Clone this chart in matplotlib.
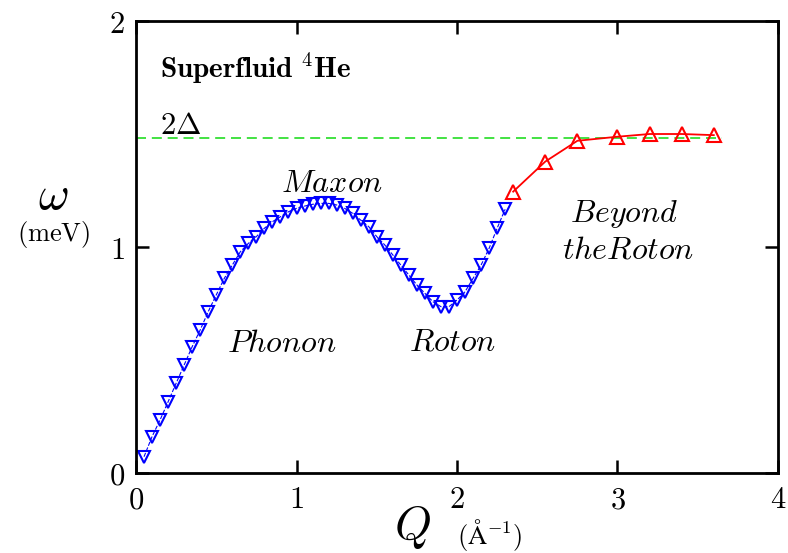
import matplotlib
matplotlib.use("Agg")
import matplotlib.pyplot as plt

plt.rcParams["mathtext.fontset"] = "cm"
plt.rcParams["font.family"] = ["DejaVu Serif"]

# measured dispersion (blue, down triangles)
q_meas = [0.05, 0.10, 0.15, 0.20, 0.25, 0.30, 0.35, 0.40, 0.45, 0.50,
          0.55, 0.60, 0.65, 0.70, 0.75, 0.80, 0.85, 0.90, 0.95, 1.00,
          1.05, 1.10, 1.15, 1.20, 1.25, 1.30, 1.35, 1.40, 1.45, 1.50,
          1.55, 1.60, 1.65, 1.70, 1.75, 1.80, 1.85, 1.90, 1.95, 2.00,
          2.05, 2.10, 2.15, 2.20, 2.25, 2.30]
w_meas = [0.072, 0.161, 0.235, 0.315, 0.397, 0.478, 0.559, 0.633, 0.714, 0.788,
          0.861, 0.920, 0.979, 1.016, 1.046, 1.083, 1.112, 1.134, 1.156, 1.171,
          1.181, 1.189, 1.193, 1.193, 1.186, 1.171, 1.149, 1.119, 1.090, 1.046,
          1.009, 0.965, 0.920, 0.876, 0.832, 0.795, 0.758, 0.736, 0.736, 0.765,
          0.802, 0.861, 0.920, 0.994, 1.083, 1.167]

# beyond the roton (red, up triangles)
q_beyond = [2.35, 2.55, 2.75, 3.00, 3.20, 3.40, 3.60]
w_beyond = [1.245, 1.378, 1.470, 1.488, 1.500, 1.500, 1.495]

two_delta = 1.484

fig = plt.figure(figsize=(7.88, 5.53), dpi=100)
ax = fig.add_axes([0.1726, 0.1447, 0.8147, 0.8173])

ax.plot([0, 3.65], [two_delta, two_delta], color="#22dd22", lw=1.2, dashes=(6, 3.5))
ax.plot(q_meas, w_meas, color="blue", lw=0.8, ls="--", marker="v", ms=9,
        mfc="none", mec="blue", mew=1.5)
ax.plot(q_beyond, w_beyond, color="red", lw=1.3, marker="^", ms=9.5,
        mfc="none", mec="red", mew=1.5)

ax.set_xlim(0, 4)
ax.set_ylim(0, 2)
ax.set_xticks([0, 1, 2, 3, 4])
ax.set_yticks([0, 1, 2])
ax.set_xticklabels(["$0$", "$1$", "$2$", "$3$", "$4$"], fontsize=22)
ax.set_yticklabels(["$0$", "$1$", "$2$"], fontsize=22)
ax.tick_params(direction="in", length=9.5, width=1.8, top=True, right=True, pad=8)
for s in ax.spines.values():
    s.set_linewidth(2)

ax.text(0.15, 1.748, r"$\mathbf{Superfluid}\ {}^{4}\mathbf{He}$", fontsize=21, va="baseline")
ax.text(0.15, 1.50, r"$2\Delta$", fontsize=22, va="baseline")
ax.text(1.22, 1.243, r"$Maxon$", fontsize=23, ha="center", va="baseline")
ax.text(0.91, 0.535, r"$Phonon$", fontsize=23, ha="center", va="baseline")
ax.text(1.97, 0.544, r"$Roton$", fontsize=23, ha="center", va="baseline")
ax.text(3.04, 1.111, r"$Beyond$", fontsize=23, ha="center", va="baseline")
ax.text(3.065, 0.951, r"$the Roton$", fontsize=23, ha="center", va="baseline")

fig.text(0.068, 0.622, r"$\omega$", fontsize=34, ha="center", va="baseline")
fig.text(0.068, 0.576, r"$\mathrm{(meV)}$", fontsize=19, ha="center", va="center")
fig.text(0.523, 0.047, r"$Q$", fontsize=34, ha="center", va="center")
fig.text(0.622, 0.033, r"$\mathrm{(\AA^{-1})}$", fontsize=19, ha="center", va="center")

fig.savefig("out.png", dpi=100)
